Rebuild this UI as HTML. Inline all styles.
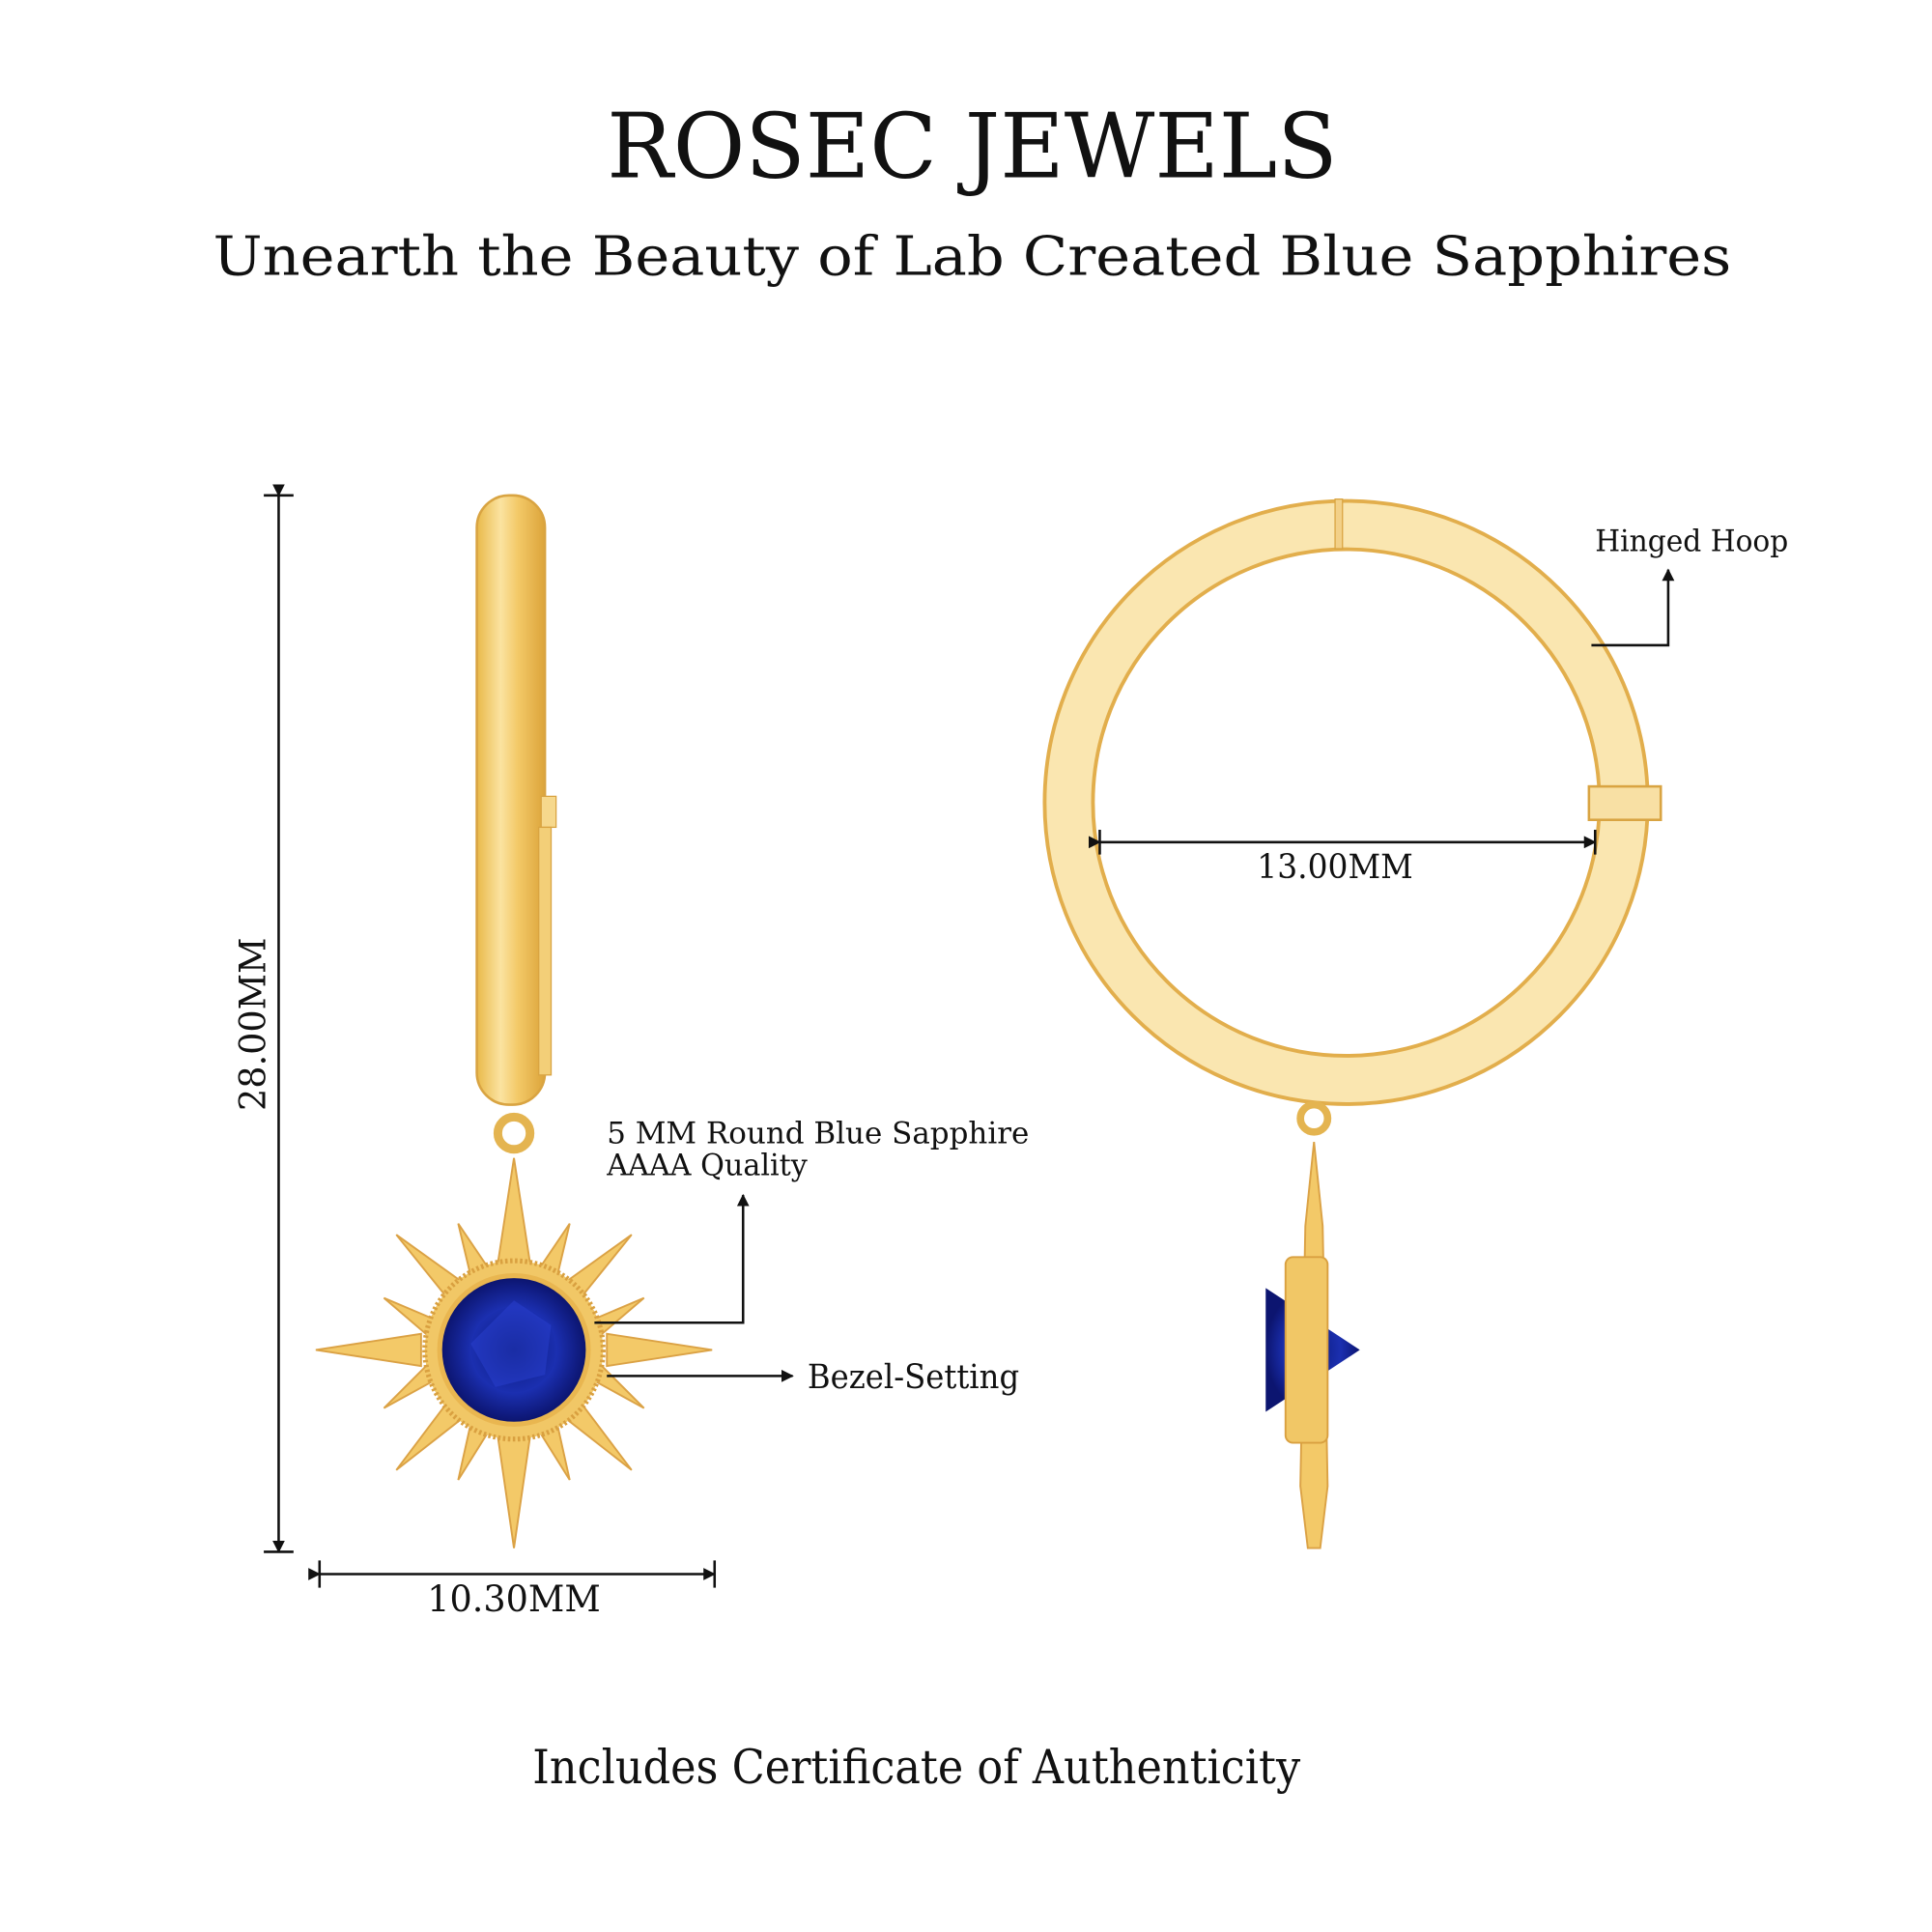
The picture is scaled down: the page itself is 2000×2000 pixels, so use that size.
<!DOCTYPE html>
<html><head><meta charset="utf-8"><style>
html,body{margin:0;padding:0;background:#fff;}
svg{display:block;}
text{font-family:"DejaVu Serif","Liberation Serif",serif;fill:#111;}
</style></head><body>
<svg width="2000" height="2000" viewBox="0 0 1560 1560" xmlns="http://www.w3.org/2000/svg">
<defs>
<linearGradient id="gv" x1="0" x2="1" y1="0" y2="0">
<stop offset="0" stop-color="#e9b94a"/><stop offset="0.35" stop-color="#fbe3a0"/><stop offset="0.6" stop-color="#f3c968"/><stop offset="1" stop-color="#dca43a"/>
</linearGradient>
<radialGradient id="gs" cx="0.5" cy="0.5" r="0.5">
<stop offset="0" stop-color="#0a1a7a"/><stop offset="0.6" stop-color="#1b2fb0"/><stop offset="1" stop-color="#0c1570"/>
</radialGradient>
<marker id="ah" markerWidth="10" markerHeight="10" refX="9" refY="5" orient="auto" markerUnits="userSpaceOnUse"><path d="M0,0 L10,5 L0,10 z" fill="#111"/></marker>
</defs>

<text x="490" y="143" font-size="72" textLength="590" lengthAdjust="spacingAndGlyphs">ROSEC JEWELS</text>
<text x="172" y="222" font-size="44" textLength="1226" lengthAdjust="spacingAndGlyphs">Unearth the Beauty of Lab Created Blue Sapphires</text>

<!-- left hoop side view -->
<rect x="385" y="400" width="55" height="492" rx="26" fill="url(#gv)" stroke="#d9a442" stroke-width="2"/>
<rect x="437" y="643" width="12" height="25" fill="#f6d88c" stroke="#d9a442"/>
<rect x="435" y="668" width="10" height="200" fill="#f3cf78" stroke="#d9a442"/>

<!-- dimension vertical -->
<line x1="225" y1="400" x2="225" y2="1253" stroke="#111" stroke-width="2" marker-start="url(#ah)" marker-end="url(#ah)"/>
<line x1="213" y1="400" x2="237" y2="400" stroke="#111" stroke-width="2"/>
<line x1="213" y1="1253" x2="237" y2="1253" stroke="#111" stroke-width="2"/>
<text transform="translate(214,897) rotate(-90)" font-size="29" textLength="140" lengthAdjust="spacingAndGlyphs">28.00MM</text>

<!-- sun pendant -->
<circle cx="415" cy="915" r="13" fill="none" stroke="#e4b450" stroke-width="7"/>
<g fill="#f3c968" stroke="#dba245" stroke-width="1.5">
<polygon points="415,935 428,1020 402,1020"/>
<polygon points="415,1250 428,1160 402,1160"/>
<polygon points="255,1090 340,1077 340,1103"/>
<polygon points="575,1090 490,1077 490,1103"/>
<polygon points="320,997 380,1040 366,1054"/>
<polygon points="510,997 450,1040 464,1054"/>
<polygon points="320,1187 380,1140 366,1126"/>
<polygon points="510,1187 450,1140 464,1126"/>
<polygon points="370,988 395,1025 380,1030"/>
<polygon points="460,988 435,1025 450,1030"/>
<polygon points="370,1195 395,1155 380,1150"/>
<polygon points="460,1195 435,1155 450,1150"/>
<polygon points="310,1048 350,1065 345,1078"/>
<polygon points="520,1048 480,1065 485,1078"/>
<polygon points="310,1137 350,1115 345,1102"/>
<polygon points="520,1137 480,1115 485,1102"/>
</g>
<circle cx="415" cy="1090" r="72" fill="#f1c766" stroke="#d9a040" stroke-width="4" stroke-dasharray="2 2"/>
<circle cx="415" cy="1090" r="62" fill="#e9b650"/>
<circle cx="415" cy="1090" r="58" fill="url(#gs)"/>
<polygon points="415,1050 445,1070 440,1110 400,1120 380,1085" fill="#2a3fd0" opacity="0.5"/>

<!-- horizontal dim -->
<line x1="258" y1="1271" x2="577" y2="1271" stroke="#111" stroke-width="2" marker-start="url(#ah)" marker-end="url(#ah)"/>
<line x1="258" y1="1260" x2="258" y2="1282" stroke="#111" stroke-width="2"/>
<line x1="577" y1="1260" x2="577" y2="1282" stroke="#111" stroke-width="2"/>
<text x="345" y="1301" font-size="29" textLength="140" lengthAdjust="spacingAndGlyphs">10.30MM</text>

<!-- annotations -->
<text x="490" y="923" font-size="24" textLength="341" lengthAdjust="spacingAndGlyphs">5 MM Round Blue Sapphire</text>
<text x="490" y="949" font-size="24" textLength="162" lengthAdjust="spacingAndGlyphs">AAAA Quality</text>
<polyline points="480,1068 600,1068 600,965" fill="none" stroke="#111" stroke-width="2" marker-end="url(#ah)"/>
<line x1="490" y1="1111" x2="640" y2="1111" stroke="#111" stroke-width="2" marker-end="url(#ah)"/>
<text x="652" y="1121" font-size="27" textLength="171" lengthAdjust="spacingAndGlyphs">Bezel-Setting</text>

<!-- right hoop -->
<circle cx="1087" cy="648" r="224" fill="none" stroke="#e2ae4c" stroke-width="42"/>
<circle cx="1087" cy="648" r="224" fill="none" stroke="#fae6b0" stroke-width="36"/>
<rect x="1283" y="635" width="58" height="27" fill="#f8e0a4" stroke="#d9a442" stroke-width="2"/>
<rect x="1078" y="403" width="6" height="40" fill="#f2d088" stroke="#d9a442"/>
<line x1="888" y1="680" x2="1288" y2="680" stroke="#111" stroke-width="2" marker-start="url(#ah)" marker-end="url(#ah)"/>
<line x1="888" y1="670" x2="888" y2="690" stroke="#111" stroke-width="2"/>
<line x1="1288" y1="670" x2="1288" y2="690" stroke="#111" stroke-width="2"/>
<text x="1015" y="709" font-size="27" textLength="126" lengthAdjust="spacingAndGlyphs">13.00MM</text>
<text x="1288" y="445" font-size="24" textLength="156" lengthAdjust="spacingAndGlyphs">Hinged Hoop</text>
<polyline points="1285,521 1347,521 1347,460" fill="none" stroke="#111" stroke-width="2" marker-end="url(#ah)"/>

<!-- side pendant -->
<circle cx="1061" cy="903" r="11" fill="none" stroke="#e4b450" stroke-width="6"/>
<polygon points="1022,1040 1098,1090 1022,1140" fill="url(#gs)"/>
<polygon points="1061,922 1068,990 1072,1200 1066,1250 1056,1250 1050,1200 1054,990" fill="#f3c968" stroke="#dba245" stroke-width="1.5"/>
<rect x="1038" y="1015" width="34" height="150" rx="6" fill="#f1c766" stroke="#d9a040" stroke-width="1.5"/>

<text x="430" y="1440" font-size="38" textLength="620" lengthAdjust="spacingAndGlyphs">Includes Certificate of Authenticity</text>
</svg>
</body></html>
